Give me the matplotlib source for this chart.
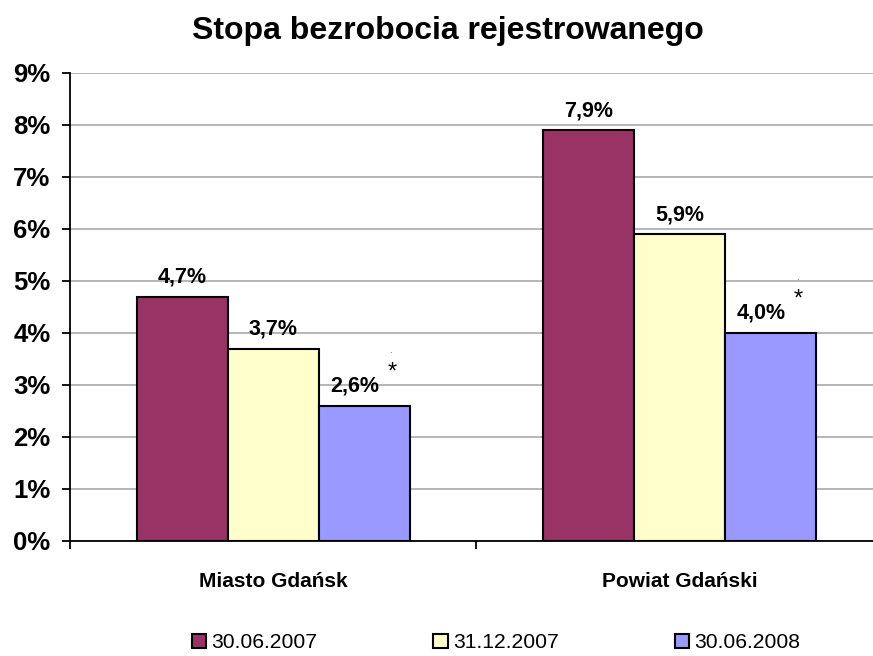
import numpy as np
import matplotlib.pyplot as plt
from matplotlib.patches import Patch

plt.rcParams['font.family'] = ['Liberation Sans', 'DejaVu Sans']

# data
categories = ['Miasto Gdańsk', 'Powiat Gdański']
series_names = ['30.06.2007', '31.12.2007', '30.06.2008']
values = [[4.7, 7.9], [3.7, 5.9], [2.6, 4.0]]  # one list per series
colors = ['#993366', '#FFFFCC', '#9999FF']
starred = [False, False, True]

fig = plt.figure(figsize=(8.73, 6.56), dpi=100)
ax = fig.add_axes([70 / 873, 1 - 541 / 656, 1 - 70 / 873, (541 - 73) / 656])

x = np.arange(len(categories))
width = 0.224
for i, (name, vals) in enumerate(zip(series_names, values)):
    pos = x + (i - 1) * width
    ax.bar(pos, vals, width, color=colors[i], edgecolor='black', linewidth=1.5,
           zorder=3, label=name)
    for p, v in zip(pos, vals):
        lbl = f"{v:.1f}%".replace('.', ',')
        dx = -6.5 if starred[i] else 0
        ax.annotate(lbl, (p, v), xytext=(dx, 6.5), textcoords='offset points',
                    ha='center', va='bottom', fontsize=15.5, fontweight='bold')
        if starred[i]:
            ax.annotate('*', (p, v), xytext=(20, 24), textcoords='offset points',
                        ha='center', va='center', fontsize=17)
            ax.annotate('.', (p, v), xytext=(19, 40), textcoords='offset points',
                        ha='center', va='center', fontsize=7, color='#555555')

ax.set_yticks(range(0, 10))
ax.set_yticklabels([f"{t}%" for t in range(0, 10)], fontsize=18.5, fontweight='bold')
ax.yaxis.grid(True, color='#b0b0b0', linewidth=1.3, zorder=0)
ax.set_axisbelow(True)

# category boundary ticks (major) and category names (minor)
ax.set_xticks([-0.5, 0.5, 1.5])
ax.set_xticklabels([])
ax.set_xticks(x, minor=True)
ax.set_xticklabels(categories, minor=True, fontsize=15, fontweight='bold')
ax.tick_params(axis='x', which='minor', length=0, pad=22)
ax.tick_params(axis='x', which='major', length=6, width=1.3, direction='out')
ax.tick_params(axis='y', length=6, width=1.3, direction='out', pad=8)

ax.set_ylim(0, 9)
ax.set_xlim(-0.5, (873 - 273) / 406.5)

for s in ['top', 'right']:
    ax.spines[s].set_visible(False)
ax.spines['left'].set_linewidth(1.3)
ax.spines['bottom'].set_linewidth(1.3)

fig.suptitle('Stopa bezrobocia rejestrowanego', fontsize=23, fontweight='bold',
             x=448 / 873, y=1 - 31 / 656, va='center')

handles = [Patch(facecolor=c, edgecolor='black', linewidth=1.5) for c in colors]
fig.legend(handles, series_names, loc='center', bbox_to_anchor=(496 / 873, 1 - 643 / 656),
           ncol=3, frameon=False, fontsize=15.2, handlelength=0.67, handleheight=0.67,
           handletextpad=0.25, columnspacing=5.5, borderpad=0)

fig.savefig('out.png', dpi=100)
